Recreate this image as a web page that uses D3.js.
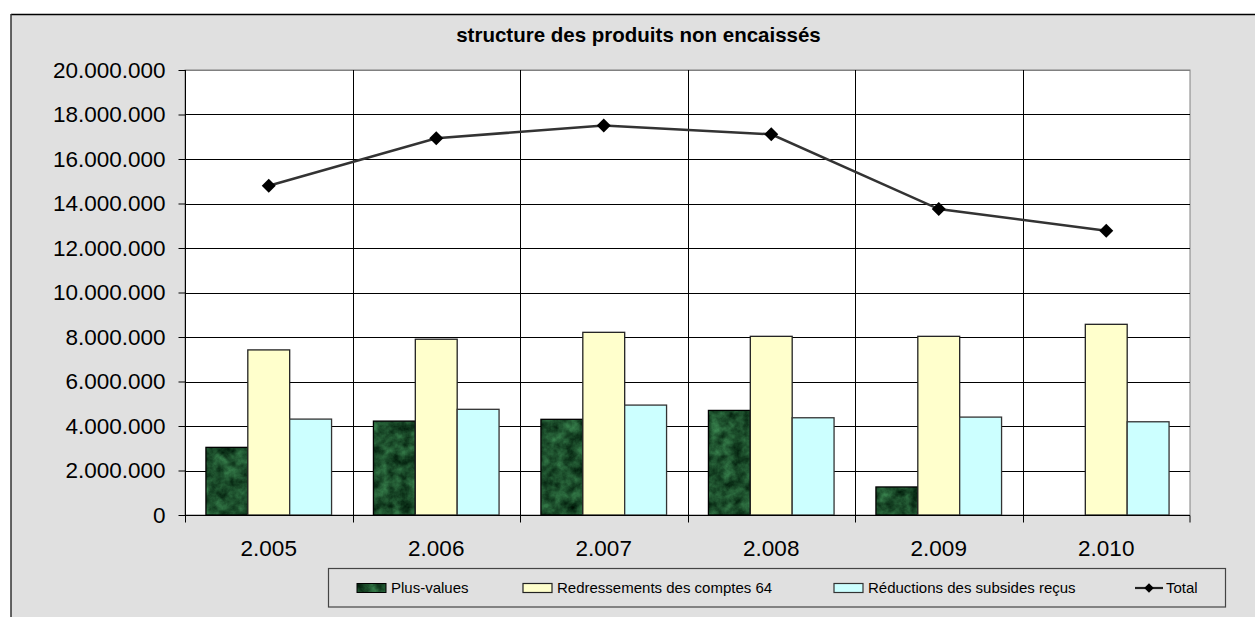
<!DOCTYPE html>
<html>
<head>
<meta charset="utf-8">
<script src="https://cdn.jsdelivr.net/npm/d3@7"></script>
<style>
  html, body { margin: 0; padding: 0; background: #ffffff; }
  svg { display: block; }
  text { font-family: Arial, "Liberation Sans", sans-serif; fill: #000; }
</style>
</head>
<body>
<svg id="chart" width="1255" height="617"></svg>
<script>
// Data
const years = ["2.005", "2.006", "2.007", "2.008", "2.009", "2.010"];
const seriesNames = ["Plus-values", "Redressements des comptes 64", "Réductions des subsides reçus"];
const plusValues    = [3040000, 4220000, 4300000, 4700000, 1260000, 0];
const redressements = [7420000, 7900000, 8210000, 8030000, 8030000, 8570000];
const reductions    = [4310000, 4750000, 4940000, 4370000, 4400000, 4190000];
const totals        = [14800000, 16930000, 17510000, 17110000, 13750000, 12780000];
const yTicks = [0, 2000000, 4000000, 6000000, 8000000, 10000000, 12000000, 14000000, 16000000, 18000000, 20000000];
const titleText = "structure des produits non encaissés";
const totalName = "Total";

const svg = d3.select("#chart");

// Texture for the first series (dark green marble)
const defs = svg.append("defs");
const marble = defs.append("filter").attr("id", "marble")
  .attr("x", "0").attr("y", "0").attr("width", "1").attr("height", "1")
  .attr("filterUnits", "objectBoundingBox")
  .attr("color-interpolation-filters", "sRGB");
marble.append("feTurbulence").attr("type", "fractalNoise")
  .attr("baseFrequency", "0.09").attr("numOctaves", 4).attr("seed", 11).attr("result", "noise");
marble.append("feColorMatrix").attr("in", "noise").attr("type", "matrix")
  .attr("values", "0.3 0 0 0 -0.04  0.55 0 0 0 0.03  0.36 0 0 0 -0.01  0 0 0 0 1")
  .attr("result", "col");
marble.append("feComposite").attr("in", "col").attr("in2", "SourceGraphic").attr("operator", "in");

// Chart background and frame
svg.append("rect").attr("x", 11).attr("y", 14).attr("width", 1255).attr("height", 617).attr("fill", "#e0e0e0");
svg.append("line").attr("x1", 11).attr("x2", 1255).attr("y1", 14.5).attr("y2", 14.5).attr("stroke", "#000").attr("stroke-width", 1.5);
svg.append("line").attr("x1", 11).attr("x2", 11).attr("y1", 14).attr("y2", 617).attr("stroke", "#333").attr("stroke-width", 1.5);

// Scales
const plot = { left: 185, right: 1190, top: 70, bottom: 515 };
const x = d3.scaleBand().domain(years).range([plot.left, plot.right]).padding(0);
const bw = x.bandwidth();
const x1 = d3.scaleBand().domain(seriesNames).range([bw / 8, bw * 7 / 8]).padding(0);
const y = d3.scaleLinear().domain([0, 20000000]).range([plot.bottom, plot.top]);
const fmt = d3.formatLocale({ decimal: ",", thousands: ".", grouping: [3], currency: ["", ""] }).format(",");

// Plot area
svg.append("rect").attr("x", plot.left).attr("y", plot.top)
  .attr("width", plot.right - plot.left).attr("height", plot.bottom - plot.top)
  .attr("fill", "#ffffff").attr("stroke", "#808080").attr("stroke-width", 1);

// Horizontal gridlines
svg.append("g").selectAll("line").data(yTicks.filter(d => d > 0)).join("line")
  .attr("x1", plot.left).attr("x2", plot.right)
  .attr("y1", d => Math.round(y(d)) + 0.5).attr("y2", d => Math.round(y(d)) + 0.5)
  .attr("stroke", d => d === 20000000 ? "#808080" : "#000").attr("stroke-width", 1);

// Vertical gridlines at category boundaries
svg.append("g").selectAll("line").data(years.slice(1)).join("line")
  .attr("x1", d => Math.round(x(d)) + 0.5).attr("x2", d => Math.round(x(d)) + 0.5)
  .attr("y1", plot.top).attr("y2", plot.bottom)
  .attr("stroke", "#000").attr("stroke-width", 1);

// Bars
const seriesData = [
  { name: seriesNames[0], values: plusValues,    fill: "#1c4a2a", stroke: "#000", filter: "url(#marble)" },
  { name: seriesNames[1], values: redressements, fill: "#ffffcc", stroke: "#222", filter: null },
  { name: seriesNames[2], values: reductions,    fill: "#ccffff", stroke: "#333", filter: null }
];
const barsG = svg.append("g");
seriesData.forEach(s => {
  const pts = years.map((yr, i) => ({ yr, v: s.values[i] })).filter(d => d.v > 0);
  const g = barsG.append("g");
  if (s.filter) {
    g.selectAll("rect.tex").data(pts).join("rect").attr("class", "tex")
      .attr("x", d => x(d.yr) + x1(s.name)).attr("width", x1.bandwidth())
      .attr("y", d => y(d.v)).attr("height", d => y(0) - y(d.v))
      .attr("fill", s.fill).attr("filter", s.filter);
    g.selectAll("rect.edge").data(pts).join("rect").attr("class", "edge")
      .attr("x", d => x(d.yr) + x1(s.name)).attr("width", x1.bandwidth())
      .attr("y", d => y(d.v)).attr("height", d => y(0) - y(d.v))
      .attr("fill", "none").attr("stroke", s.stroke).attr("stroke-width", 1.3);
  } else {
    g.selectAll("rect").data(pts).join("rect")
      .attr("x", d => x(d.yr) + x1(s.name)).attr("width", x1.bandwidth())
      .attr("y", d => y(d.v)).attr("height", d => y(0) - y(d.v))
      .attr("fill", s.fill).attr("stroke", s.stroke).attr("stroke-width", 1.3);
  }
});

// Total line with diamond markers
const line = d3.line().x((d, i) => x(years[i]) + bw / 2).y(d => y(d));
svg.append("path").datum(totals).attr("d", line)
  .attr("fill", "none").attr("stroke", "#333").attr("stroke-width", 2.5);
svg.append("g").selectAll("path").data(totals).join("path")
  .attr("d", d3.symbol().type(d3.symbolSquare).size(98))
  .attr("transform", (d, i) => `translate(${x(years[i]) + bw / 2},${y(d)}) rotate(45)`)
  .attr("fill", "#000");

// Y axis
const yAxis = d3.axisLeft(y).tickValues(yTicks).tickFormat(fmt).tickSize(7).tickPadding(13);
const yg = svg.append("g").attr("transform", `translate(${plot.left + 0.5},0)`).call(yAxis);
yg.select(".domain").attr("stroke", "#000").attr("d", `M0,${plot.top}V${plot.bottom}`);
yg.selectAll(".tick line").attr("stroke", "#000");
yg.selectAll(".tick text").attr("font-size", "22.5px").attr("font-family", "Arial, 'Liberation Sans', sans-serif").attr("fill", "#000");

// X axis
const xAxis = d3.axisBottom(x).tickSize(0).tickPadding(0);
const xg = svg.append("g").attr("transform", `translate(0,${plot.bottom + 0.5})`).call(xAxis);
xg.select(".domain").attr("stroke", "#000").attr("d", `M${plot.left},0H${plot.right}`);
xg.selectAll(".tick text").attr("font-size", "22.5px").attr("font-family", "Arial, 'Liberation Sans', sans-serif")
  .attr("fill", "#000").attr("dy", null).attr("y", 40);
// Tick marks on category boundaries
xg.append("g").selectAll("line").data(years.concat(["end"])).join("line")
  .attr("x1", d => d === "end" ? plot.right : Math.round(x(d)) + 0.5)
  .attr("x2", d => d === "end" ? plot.right : Math.round(x(d)) + 0.5)
  .attr("y1", 0).attr("y2", 7).attr("stroke", "#000");

// Title
svg.append("text").attr("x", 638.5).attr("y", 41.5).attr("text-anchor", "middle")
  .attr("font-size", "20.5px").attr("font-weight", "bold").text(titleText);

// Legend
const lg = svg.append("g");
lg.append("rect").attr("x", 328.5).attr("y", 568.5).attr("width", 897).attr("height", 38.5)
  .attr("fill", "#e0e0e0").attr("stroke", "#444").attr("stroke-width", 1.2);
const legendItems = [
  { name: seriesNames[0], sx: 357, fill: "#1c4a2a", stroke: "#000", filter: "url(#marble)" },
  { name: seriesNames[1], sx: 523, fill: "#ffffcc", stroke: "#222", filter: null },
  { name: seriesNames[2], sx: 834, fill: "#ccffff", stroke: "#333", filter: null }
];
legendItems.forEach(it => {
  const r = lg.append("rect").attr("x", it.sx).attr("y", 583.5).attr("width", 29).attr("height", 9)
    .attr("fill", it.fill);
  if (it.filter) {
    r.attr("filter", it.filter);
    lg.append("rect").attr("x", it.sx).attr("y", 583.5).attr("width", 29).attr("height", 9)
      .attr("fill", "none").attr("stroke", it.stroke).attr("stroke-width", 1);
  } else {
    r.attr("stroke", it.stroke).attr("stroke-width", 1.2);
  }
  lg.append("text").attr("x", it.sx + 34).attr("y", 592.5).attr("font-size", "15px").text(it.name);
});
lg.append("line").attr("x1", 1135).attr("x2", 1163).attr("y1", 588).attr("y2", 588)
  .attr("stroke", "#222").attr("stroke-width", 2.2);
lg.append("path").attr("d", d3.symbol().type(d3.symbolSquare).size(45))
  .attr("transform", "translate(1149,588) rotate(45)").attr("fill", "#000");
lg.append("text").attr("x", 1166).attr("y", 592.5).attr("font-size", "15px").text(totalName);
</script>
</body>
</html>
